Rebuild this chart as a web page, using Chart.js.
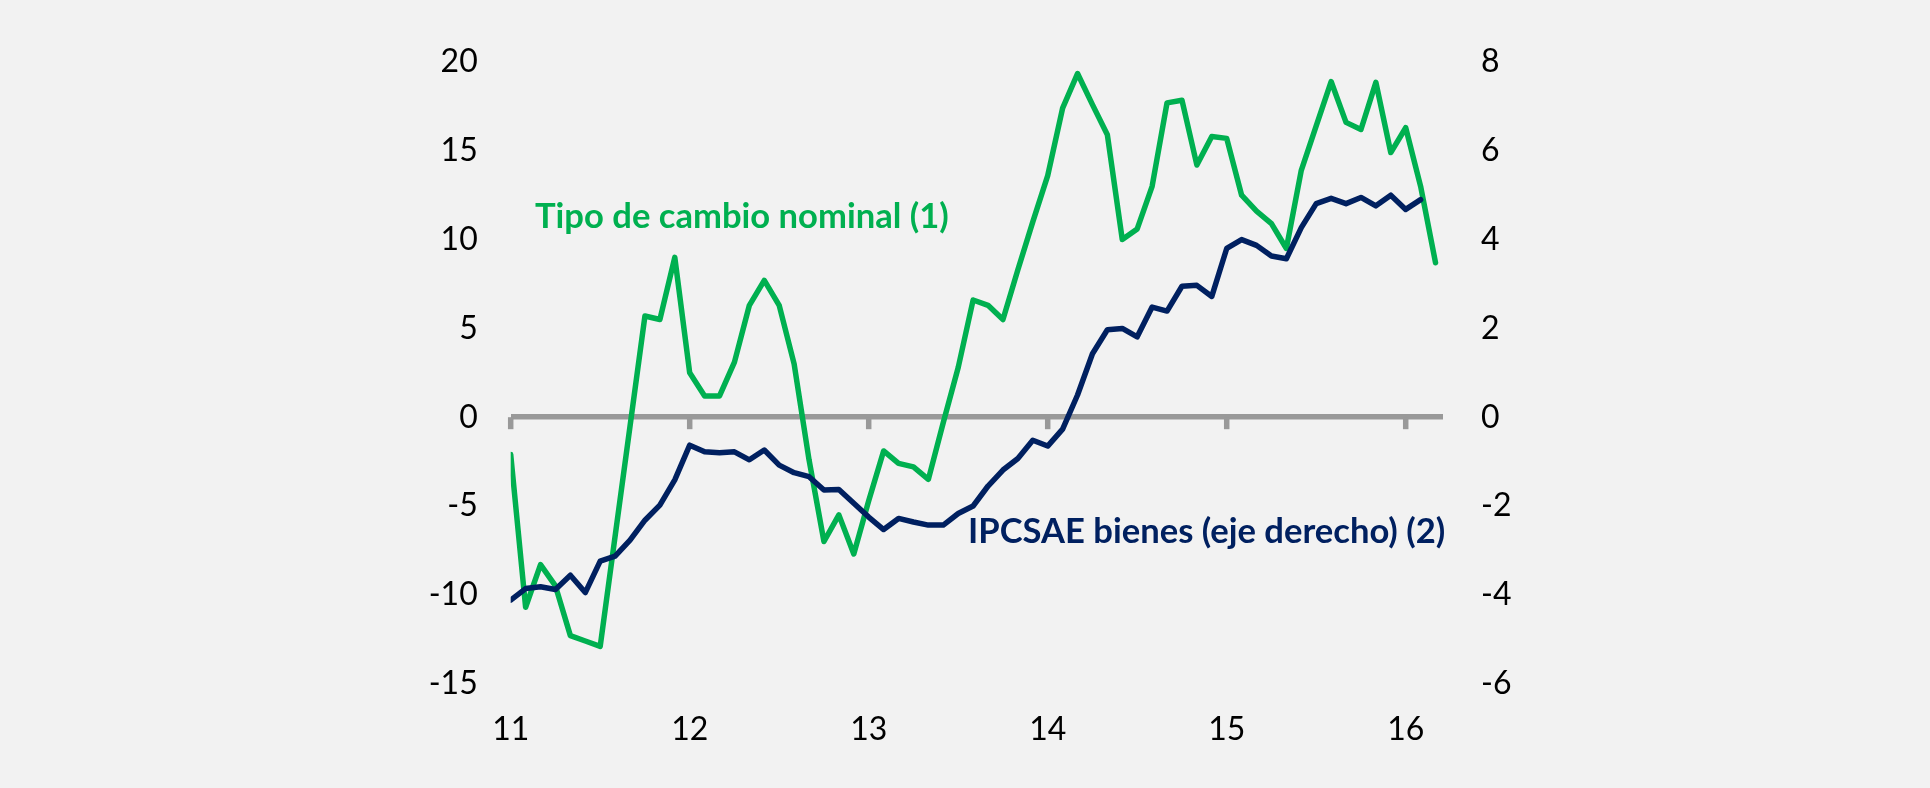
<!DOCTYPE html>
<html>
<head>
<meta charset="utf-8">
<script src="https://cdn.jsdelivr.net/npm/chart.js@4.4.1/dist/chart.umd.min.js"></script>
<style>
  html, body { margin: 0; padding: 0; background: #ffffff; }
  #wrap { position: absolute; left: 0; top: 0; width: 1930px; height: 788px; background: #F2F2F2; }
  canvas { position: absolute; left: 0; top: 0; }
</style>
</head>
<body>
<div id="wrap"><canvas id="c" width="1930" height="788"></canvas></div>
<script>
// Month index 0 = Jan 2011
const yearLabels = ['11', '12', '13', '14', '15', '16'];
const yearTickIndex = [0, 12, 24, 36, 48, 60];

// Tipo de cambio nominal (1) - left axis, Jan 2011 .. Mar 2016
const tipoCambio = [
  -2.1, -10.7, -8.3, -9.5, -12.3, -12.6, -12.9, -6.7, -0.5, 5.7, 5.5, 9.0,
  2.5, 1.2, 1.2, 3.1, 6.3, 7.7, 6.3, 3.0, -2.4, -7.0, -5.5, -7.7,
  -4.7, -1.9, -2.6, -2.8, -3.5, -0.3, 2.8, 6.6, 6.3, 5.5, 8.3, 11.0,
  13.6, 17.4, 19.35, 17.6, 15.9, 10.0, 10.6, 13.0, 17.7, 17.85, 14.2, 15.8,
  15.7, 12.5, 11.6, 10.9, 9.5, 13.9, 16.4, 18.9, 16.6, 16.2, 18.85, 14.9,
  16.3, 13.0, 8.7
];

// IPCSAE bienes (eje derecho) (2) - right axis, Jan 2011 .. Feb 2016
const ipcsaeBienes = [
  -4.12, -3.86, -3.82, -3.88, -3.56, -3.95, -3.24, -3.13, -2.77, -2.32, -1.98, -1.41,
  -0.63, -0.78, -0.80, -0.78, -0.96, -0.74, -1.08, -1.25, -1.34, -1.64, -1.63, -1.94,
  -2.25, -2.53, -2.28, -2.36, -2.43, -2.43, -2.17, -2.00, -1.55, -1.19, -0.93, -0.52,
  -0.65, -0.27, 0.50, 1.43, 1.97, 2.00, 1.81, 2.48, 2.39, 2.95, 2.97, 2.72,
  3.80, 4.00, 3.87, 3.63, 3.57, 4.27, 4.81, 4.93, 4.81, 4.95, 4.76, 5.00,
  4.68, 4.90
];

const labelTipo = 'Tipo de cambio nominal (1)';
const labelIpc = 'IPCSAE bienes (eje derecho) (2)';

const GREEN = '#00B050';
const NAVY = '#002060';
const AXIS_GRAY = '#999999';
const FONT = 'Lato, "Open Sans", sans-serif';

const toXY = arr => arr.map((v, i) => ({ x: i, y: v }));

const decorPlugin = {
  id: 'decor',
  beforeDatasetsDraw(chart) {
    const ctx = chart.ctx;
    const xs = chart.scales.x, ys = chart.scales.y;
    const y0 = ys.getPixelForValue(0);
    ctx.save();
    ctx.strokeStyle = AXIS_GRAY;
    ctx.lineWidth = 5.5;
    ctx.lineCap = 'butt';
    yearTickIndex.forEach(i => {
      const px = xs.getPixelForValue(i);
      ctx.beginPath();
      ctx.moveTo(px, y0);
      ctx.lineTo(px, y0 + 12);
      ctx.stroke();
    });
    ctx.restore();
  },
  afterDatasetsDraw(chart) {
    const ctx = chart.ctx;
    ctx.save();
    ctx.textBaseline = 'alphabetic';
    ctx.textAlign = 'left';
    ctx.font = 'bold 34.6px ' + FONT;
    ctx.fillStyle = GREEN;
    ctx.fillText(labelTipo, 535, 228);
    ctx.fillStyle = NAVY;
    ctx.fillText(labelIpc, 968, 543);
    ctx.restore();
  }
};

new Chart(document.getElementById('c'), {
  type: 'line',
  data: {
    datasets: [
      {
        label: labelTipo,
        data: toXY(tipoCambio),
        yAxisID: 'y',
        borderColor: GREEN,
        borderWidth: 5.5,
        pointRadius: 0,
        tension: 0,
        borderJoinStyle: 'round',
        borderCapStyle: 'round',
        order: 2
      },
      {
        label: labelIpc,
        data: toXY(ipcsaeBienes),
        yAxisID: 'y1',
        borderColor: NAVY,
        borderWidth: 5.5,
        pointRadius: 0,
        tension: 0,
        borderJoinStyle: 'round',
        borderCapStyle: 'round',
        order: 1
      }
    ]
  },
  options: {
    responsive: false,
    animation: false,
    layout: { padding: { left: 0, right: 0, top: 62, bottom: 0 } },
    plugins: { legend: { display: false }, tooltip: { enabled: false } },
    scales: {
      x: {
        type: 'linear',
        min: 0,
        max: 62.5,
        afterBuildTicks: s => { s.ticks = yearTickIndex.map(v => ({ value: v })); },
        afterFit: s => { s.height = 104.4; },
        grid: { display: false, drawTicks: false },
        border: { display: false },
        ticks: {
          autoSkip: false,
          maxRotation: 0,
          padding: 27,
          color: '#000000',
          font: { family: FONT, size: 32 },
          callback: (v) => { const k = yearTickIndex.indexOf(v); return k >= 0 ? yearLabels[k] : ''; }
        }
      },
      y: {
        position: 'left',
        min: -15,
        max: 20,
        afterFit: s => { s.width = 510.7; },
        grid: {
          drawTicks: false,
          color: c => (c.tick && c.tick.value === 0) ? AXIS_GRAY : 'rgba(0,0,0,0)',
          lineWidth: c => (c.tick && c.tick.value === 0) ? 5.5 : 0
        },
        border: { display: false },
        ticks: {
          stepSize: 5,
          padding: 33,
          color: '#000000',
          font: { family: FONT, size: 32 }
        }
      },
      y1: {
        position: 'right',
        min: -6,
        max: 8,
        afterFit: s => { s.width = 487; },
        grid: { display: false, drawTicks: false },
        border: { display: false },
        ticks: {
          stepSize: 2,
          padding: 38,
          color: '#000000',
          font: { family: FONT, size: 32 }
        }
      }
    }
  },
  plugins: [decorPlugin]
});
</script>
</body>
</html>
